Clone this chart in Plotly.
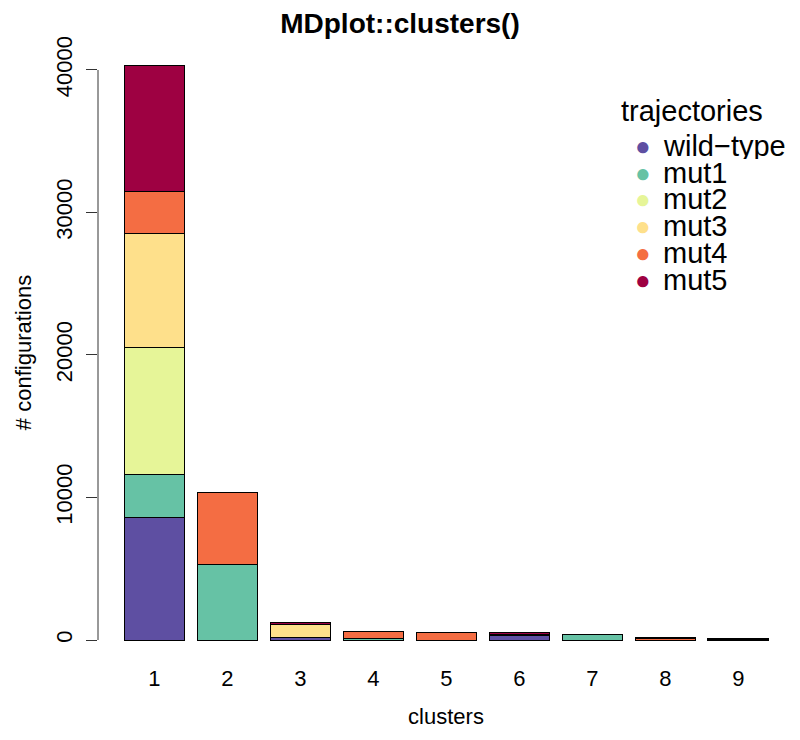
import plotly.graph_objects as go

clusters = [1, 2, 3, 4, 5, 6, 7, 8, 9]
trajectories = ["wild\u2212type", "mut1", "mut2", "mut3", "mut4", "mut5"]
wild_type = [8580, 0, 180, 0, 0, 330, 0, 0, 40]
mut1 = [3020, 5270, 0, 130, 0, 0, 420, 0, 0]
mut2 = [8930, 0, 0, 0, 0, 30, 0, 0, 0]
mut3 = [8010, 0, 880, 0, 0, 0, 0, 0, 0]
mut4 = [2950, 5060, 40, 480, 510, 60, 0, 80, 30]
mut5 = [8850, 0, 150, 0, 0, 90, 0, 80, 50]
yticks = [0, 10000, 20000, 30000, 40000]

series = [wild_type, mut1, mut2, mut3, mut4, mut5]
colors = ["#5E4FA2", "#66C2A5", "#E6F598", "#FEE08B", "#F46D43", "#9E0142"]
font = "Liberation Sans, Arial, sans-serif"

W, H = 800, 740
ML, MR, MT, MB = 98, 6, 42, 77


def px_x(p):
    return (p - ML) / (W - ML - MR)


def px_y(p):
    return (H - MB - p) / (H - MT - MB)


fig = go.Figure()

# stacked bars, black outlines
for name, vals, col in zip(trajectories, series, colors):
    fig.add_trace(go.Bar(x=clusters, y=vals, name=name, marker_color=col,
                         marker_line=dict(color="black", width=1),
                         width=0.833, showlegend=False))

# R style axis line, only from first to last tick
fig.add_shape(type="line", xref="paper", yref="y", x0=0, x1=0,
              y0=min(yticks), y1=max(yticks), line=dict(color="#333", width=1))

# legend drawn like R's legend() (tight spacing, round symbols)
fig.add_annotation(text="trajectories", xref="paper", yref="paper",
                   x=px_x(619), y=px_y(111), xanchor="left", yanchor="middle",
                   showarrow=False, font=dict(size=29))
for i, (name, col) in enumerate(zip(trajectories, colors)):
    yy = px_y(146 + i * 26.7)
    fig.add_annotation(text="\u25cf", xref="paper", yref="paper",
                       x=px_x(643), y=yy, xanchor="center", yanchor="middle",
                       showarrow=False, font=dict(size=26, color=col),
                       height=24, borderpad=0)
    fig.add_annotation(text=name, xref="paper", yref="paper",
                       x=px_x(662), y=yy, xanchor="left", yanchor="middle",
                       showarrow=False, font=dict(size=29),
                       height=26, borderpad=0)

fig.update_layout(
    barmode="stack",
    width=W, height=H,
    margin=dict(l=ML, r=MR, t=MT, b=MB),
    plot_bgcolor="white", paper_bgcolor="white",
    font=dict(family=font, size=22, color="black"),
    showlegend=False,
    title=dict(text="<b>MDplot::clusters()</b>", x=0.5, xanchor="center",
               y=0.968, yanchor="middle", font=dict(size=28)),
    xaxis=dict(range=[0.226, 9.762], tickvals=clusters, ticks="",
               showgrid=False, zeroline=False, showline=False, automargin=False,
               title=dict(text="clusters", font=dict(size=22), standoff=18),
               tickfont=dict(size=22)),
    yaxis=dict(range=[-1614, 41964], tickvals=yticks,
               ticktext=[str(v) for v in yticks], ticks="outside",
               ticklen=11, tickcolor="#333", tickangle=-90,
               ticklabelstandoff=5, automargin=False,
               showgrid=False, zeroline=False, showline=False,
               title=dict(text="# configurations", font=dict(size=22), standoff=14),
               tickfont=dict(size=22)),
)

# page has a default 8px body margin; drop it so the figure sits at 0,0
fig.write_html("out.html", config={"displayModeBar": False},
               post_script="document.body.style.margin='0';")
